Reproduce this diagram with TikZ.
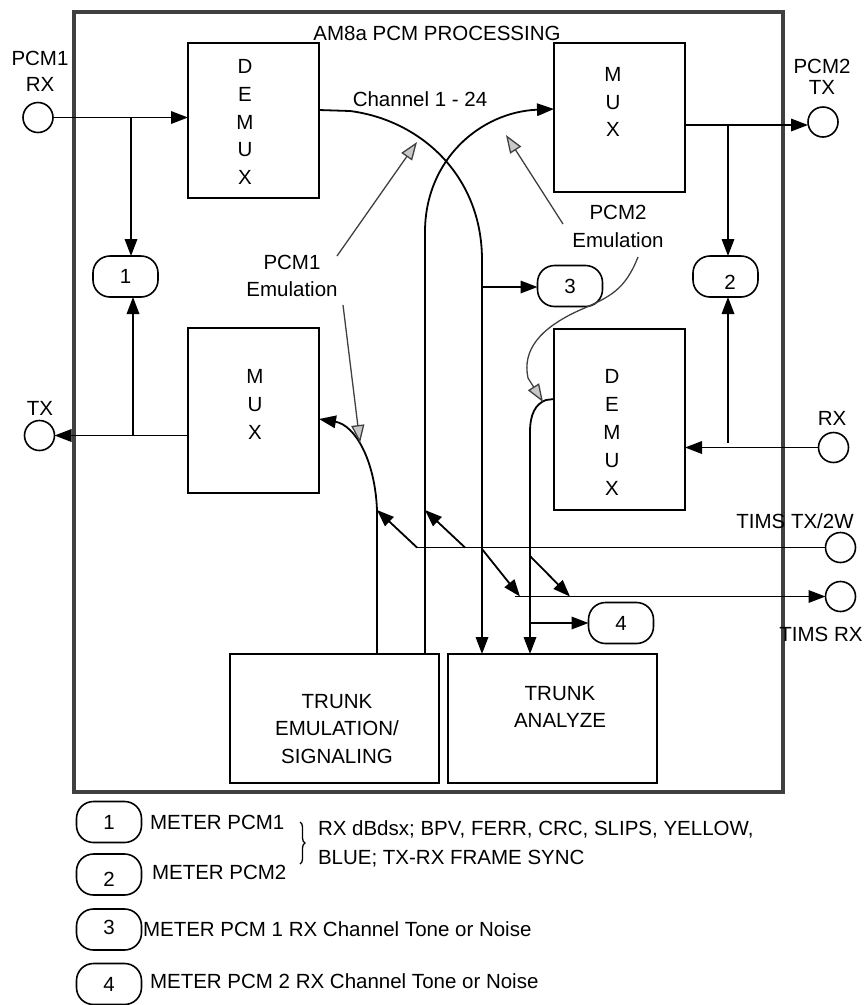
\documentclass[tikz,border=0pt]{standalone}
\usepackage{fontspec}
\setmainfont{Liberation Sans}
\usetikzlibrary{arrows.meta,decorations.pathreplacing}
\definecolor{framegray}{HTML}{404040}
\definecolor{ptrgray}{HTML}{404040}
\definecolor{tipgray}{HTML}{C8C8C8}
\begin{document}
\begin{tikzpicture}[x=1pt,y=-1pt,
  every node/.style={inner sep=0pt, outer sep=0pt},
  font=\fontsize{20.5}{24}\selectfont,
  box/.style={draw, line width=1.8pt, minimum width=131pt},
  meter/.style={draw, line width=1.6pt, rounded corners=17pt, minimum width=65pt, minimum height=41pt},
  term/.style={draw, circle, line width=1.6pt, minimum size=30pt},
  conn/.style={line width=1.8pt},
  arr/.style={conn, -{Triangle[length=17pt,width=12.5pt]}},
  ptr/.style={draw=ptrgray, line width=1.3pt, -{Triangle[length=18pt,width=13pt,fill=tipgray]}},
  stack/.style={align=center, font=\fontsize{20.5}{27.8}\selectfont},
]
\useasboundingbox (0,0) rectangle (866,1005);
% frame
\node[draw=framegray, line width=3.5pt, minimum width=709pt, minimum height=780pt] (frame) at (428.5,402) {};
\node[anchor=base] (title) at (437,40) {AM8a PCM PROCESSING};
% boxes
\node[box, minimum height=155pt] (demux1) at (253.5,120.5) {};
\node[box, minimum height=149pt] (mux2) at (619.5,117.5) {};
\node[box, minimum height=165pt] (mux1) at (253.5,410.5) {};
\node[box, minimum height=181pt] (demux2) at (619.5,419.5) {};
\node[box, minimum width=209pt, minimum height=129pt] (trem) at (334.5,718.5) {};
\node[box, minimum width=209pt, minimum height=129pt] (tran) at (552.5,718.5) {};
\node[stack] (demux1t) at (245,122) {D\\E\\M\\U\\X};
\node[stack] (mux2t) at (613,102) {M\\U\\X};
\node[stack] (mux1t) at (255,404.5) {M\\U\\X};
\node[stack] (demux2t) at (612,432.5) {D\\E\\M\\U\\X};
\node[align=center, font=\fontsize{20.5}{27.3}\selectfont] (tremt) at (337,729) {TRUNK\\EMULATION/\\SIGNALING};
\node[align=center, font=\fontsize{20.5}{26.5}\selectfont] (trant) at (560,707) {TRUNK\\ANALYZE};
% meters
\node[meter] (m1) at (125.5,276.5) {1};
\node[meter] (m2) at (725.5,276.5) {\raisebox{-6pt}[14.6pt][0pt]{\hspace{9pt}2}};
\node[meter] (m3) at (570,286) {3};
\node[meter] (m4) at (621,623) {4};
% terminals
\node[term] (pcm1rx) at (38,117.5) {};
\node[term] (pcm2tx) at (823,122) {};
\node[term] (tx) at (39.5,435.5) {};
\node[term] (rx) at (833.5,447.5) {};
\node[term] (timstx) at (840.5,547.5) {};
\node[term] (timsrx) at (840.5,596.5) {};
\node[align=center, font=\fontsize{20.5}{26}\selectfont] (pcm1rxl) at (40,71) {PCM1\\RX};
\node[align=center, font=\fontsize{20.5}{21.5}\selectfont] (pcm2txl) at (822,77) {PCM2\\TX};
\node (txl) at (40,408) {TX};
\node (rxl) at (832,418) {RX};
\node[anchor=base] (timstxl) at (795,528) {TIMS TX/2W};
\node (timsrxl) at (821,634.5) {TIMS RX};
\node[anchor=base] (chan) at (420,106) {Channel 1 - 24};
\node[align=center, font=\fontsize{20.5}{27.5}\selectfont] (emu1) at (292,276) {PCM1\\Emulation};
\node[align=center, font=\fontsize{20.5}{28}\selectfont] (emu2) at (618,226) {PCM2\\Emulation};
% PCM connectors
\coordinate (j1) at (131,117.5);
\draw[arr] (pcm1rx.east) -- (pcm1rx.east -| demux1.west);
\draw[arr] (j1) -- (j1 |- m1.north);
\coordinate (j2) at (133,435.5);
\draw[arr] (tx.east -| mux1.west) -- (tx.east);
\draw[arr] (j2) -- (j2 |- m1.south);
\coordinate (j3) at (728,125);
\draw[arr] (mux2.east |- j3) -- (pcm2tx.west |- j3);
\draw[arr] (j3) -- (j3 |- m2.north);
\coordinate (j4) at (728,443);
\draw[arr] (rx.west) -- (rx.west -| demux2.east);
\draw[arr] (j4) -- (j4 |- m2.south);
% channel curves
\coordinate (aX) at (482,260);
\draw[arr] ([yshift=10.5pt]demux1.east) -- (350,111) .. controls (420,120) and (482,175) .. (aX) -- (aX |- tran.north);
\coordinate (bX) at (425,232);
\coordinate (bY) at (425,510);
\draw[arr] (bX |- trem.north) -- (bX) .. controls (425,160) and (480,112) .. ([yshift=8.5pt]mux2.west);
\coordinate (cX) at (377,510);
\draw[arr] (cX |- trem.north) -- (cX) .. controls (375,460) and (355,425) .. ([yshift=-8.5pt]mux1.east);
\coordinate (dX) at (530,432);
\draw[arr] ([yshift=20.5pt]demux2.west) -- (546,400) .. controls (535,404) and (530,415) .. (dX) -- (dX |- tran.north);
\coordinate (j5) at (482,287);
\draw[arr] (j5) -- (j5 -| m3.west);
\coordinate (j6) at (530,623);
\draw[arr] (j6) -- (j6 -| m4.west);
% TIMS
\coordinate (t1) at (417,547.5);
\coordinate (t2) at (465,547.5);
\coordinate (t3) at (482,549);
\coordinate (t4) at (530,556);
\coordinate (r0) at (515,596.5);
\coordinate (r1) at (520,596.5);
\coordinate (r2) at (570,596.5);
\draw[conn] (timstx.west) -- (t1);
\draw[arr] (t1) -- (cX);
\draw[arr] (t2) -- (bY);
\draw[arr] (r0) -- (timsrx.west);
\draw[arr] (t3) -- (r1);
\draw[arr] (t4) -- (r2);
% emulation pointers
\coordinate (p1s) at (337,256); \coordinate (p1e) at (417,142);
\coordinate (p2s) at (343,305); \coordinate (p2e) at (360,443);
\coordinate (p3s) at (563,224); \coordinate (p3e) at (506,135);
\coordinate (p4s) at (638,257); \coordinate (p4e) at (543,402);
\draw[ptr] (p1s) -- (p1e);
\draw[ptr] (p2s) -- (p2e);
\draw[ptr] (p3s) -- (p3e);
\draw[ptr] (p4s) .. controls (625,290) and (610,297) .. (580,310) .. controls (540,328) and (522,350) .. (528,378) -- (p4e);
% legend
\node[meter] (l1) at (109,822) {1};
\node[meter] (l2) at (109,874.5) {\raisebox{-4.5pt}[14.6pt][0pt]{2}};
\node[meter] (l3) at (109,929.5) {\raisebox{2.5pt}[14.6pt][0pt]{3}};
\node[meter] (l4) at (109,984) {4};
\node[anchor=west] (l1t) at (150,822.5) {METER PCM1};
\node[anchor=west] (l2t) at (152,872.5) {METER PCM2};
\node[anchor=west] (l3t) at (143,929.5) {METER PCM 1 RX Channel Tone or Noise};
\node[anchor=west] (l4t) at (150,981.5) {METER PCM 2 RX Channel Tone or Noise};
\draw[decorate, decoration={brace, amplitude=5pt}, line width=1.3pt] (300,822) -- (300,864);
\node[anchor=base west] (bt1) at (318,835) {RX dBdsx; BPV, FERR, CRC, SLIPS, YELLOW,};
\node[anchor=base west] (bt2) at (318,864) {BLUE; TX-RX FRAME SYNC};
\end{tikzpicture}
\end{document}
